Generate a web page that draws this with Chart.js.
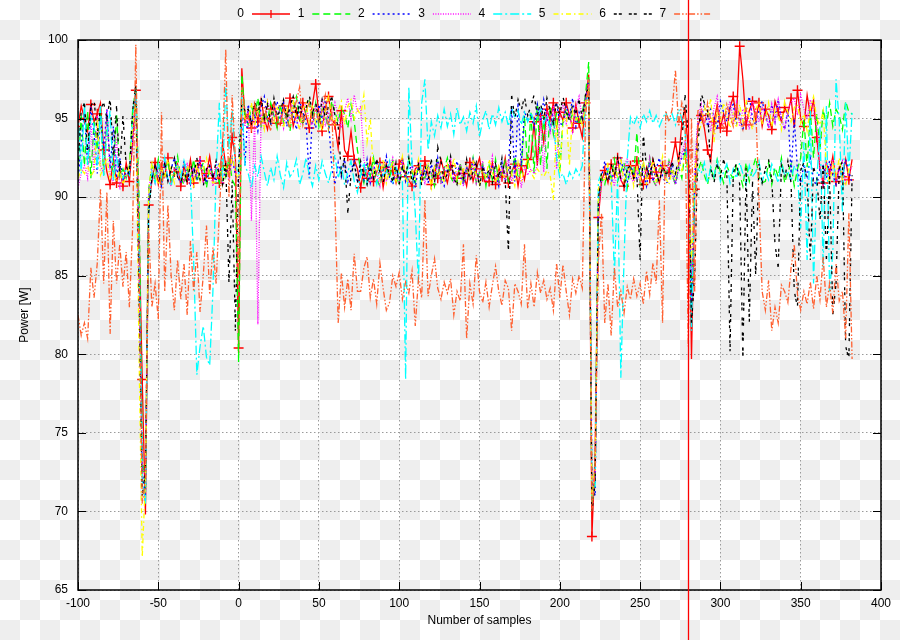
<!DOCTYPE html>
<html><head><meta charset="utf-8">
<script src="https://cdn.jsdelivr.net/npm/chart.js@4/dist/chart.umd.min.js"></script>
<style>
html,body{margin:0;padding:0;}
body{width:900px;height:640px;overflow:hidden;background-color:#fff;
background-image:conic-gradient(#eeeeee 0deg 90deg,#ffffff 90deg 180deg,#eeeeee 180deg 270deg,#ffffff 270deg 360deg);
background-size:40px 40px;}
#wrap{position:relative;width:900px;height:640px;}
</style></head><body><div id="wrap"><canvas id="c" width="900" height="640"></canvas></div>
<script>
const X_TITLE = 'Number of samples';
const Y_TITLE = 'Power [W]';
const MARKER_X = 280;
const seriesNames = ['0','1','2','3','4','5','6','7'];

const samples = [
-100,-98,-96,-94,-92,-90,-88,-86,-84,-82,-80,-78,-76,-74,-72,-70,-68,-66,
-64,-62,-60,-58,-56,
-54,-52,-50,-48,-46,-44,-42,-40,-38,-36,-34,-32,-30,-28,-26,-24,-22,-20,-18,-16,-14,-12,-10,-8,-6,-4,-2,
0,2,4,
6,8,10,12,14,16,18,20,22,24,26,28,30,32,34,36,38,40,42,44,46,48,50,52,54,56,58,60,62,64,66,68,70,72,74,
76,78,80,82,84,86,88,90,92,94,96,98,100,102,104,106,108,110,112,114,116,118,120,122,124,126,128,130,132,134,136,138,140,142,144,146,148,150,152,154,156,158,160,162,164,166,168,170,172,174,176,178,180,
182,184,186,188,190,192,194,196,198,200,202,204,206,208,210,212,214,216,
218,220,222,224,226,
228,230,232,234,236,238,240,242,244,246,248,250,252,254,256,258,260,262,264,266,268,270,272,274,276,278,
280,282,284,286,
288,290,292,294,296,298,300,302,304,306,308,310,312,314,316,318,320,322,324,326,328,330,332,334,336,338,340,342,344,346,348,350,352,354,356,358,360,362,364,366,368,370,372,374,376,378,380,382
];

const power0 = [
94.5,95.8,95.0,94.2,95.9,94.8,95.3,96.0,93.0,91.6,90.8,92.4,90.9,91.8,90.7,92.2,91.0,93.5,
96.8,88.0,78.4,69.8,89.5,
91.0,92.2,90.8,91.9,91.3,92.5,90.9,91.6,92.1,90.7,92.0,91.1,92.4,90.9,91.7,92.3,91.0,91.5,92.6,91.2,91.8,90.9,93.5,92.0,91.4,93.8,92.5,
80.4,98.2,95.0,
95.3,94.4,95.9,94.8,96.2,95.0,94.3,95.6,96.0,94.7,94.6,95.8,95.1,96.3,94.5,95.4,94.9,96.0,95.2,94.4,95.9,97.2,95.3,94.2,95.7,96.4,95.0,94.6,93.1,95.5,93.0,92.6,94.2,92.4,91.8,
90.6,91.8,91.2,92.4,91.0,91.6,92.2,90.6,91.9,91.4,91.7,90.9,92.1,92.5,91.3,91.1,90.7,91.8,92.0,91.2,92.3,91.4,90.8,91.9,91.2,92.4,91.6,90.9,92.0,91.5,91.2,92.0,91.5,90.7,92.2,91.0,91.8,92.5,91.3,90.9,91.0,92.2,90.8,91.9,91.3,92.5,90.9,91.6,92.1,90.7,92.0,91.1,92.4,
92.5,94.8,92.0,95.2,93.5,95.6,94.9,96.0,94.5,95.4,94.9,96.0,95.2,94.4,95.9,94.7,93.8,96.0,
97.8,68.4,73.8,88.7,91.0,
91.7,90.9,92.1,91.3,92.5,91.1,90.7,91.8,92.0,91.2,92.3,91.4,90.8,91.9,91.2,92.4,91.6,90.9,92.0,91.5,91.6,92.4,93.5,92.2,94.8,95.6,
93.0,79.7,90.5,94.5,
95.2,94.4,93.0,92.3,94.8,95.9,94.4,95.3,94.2,95.7,96.4,95.0,99.6,97.5,94.6,95.5,96.1,94.9,96.0,94.5,95.6,95.2,94.3,96.1,95.4,94.8,95.7,95.3,96.3,94.4,96.8,95.0,94.5,96.5,95.2,96.2,93.8,91.8,90.9,92.2,91.5,92.6,91.0,91.9,91.3,92.4,91.1,92.4
];

const power1 = [
91.5,95.2,92.0,95.5,91.2,94.8,93.0,95.6,91.4,95.0,92.2,91.6,95.3,91.3,91.8,91.2,92.0,95.5,
97.0,90.0,73.5,71.5,90.5,
92.0,91.1,92.4,90.9,91.7,92.3,91.0,91.5,92.6,91.2,90.8,91.8,91.2,92.4,91.0,91.6,92.2,90.6,91.9,91.4,91.7,90.9,92.1,91.3,92.5,91.1,90.7,
79.5,97.8,95.2,
94.6,95.8,95.1,96.3,94.5,95.4,94.9,96.0,95.2,94.4,95.9,94.7,95.3,94.2,95.7,96.4,95.0,94.6,95.5,96.1,94.9,96.0,94.5,95.6,95.2,94.3,96.1,95.4,94.8,95.7,95.3,94.4,95.9,94.8,93.0,
91.7,90.9,92.1,91.3,92.5,91.1,90.7,91.8,92.0,91.2,92.3,91.4,90.8,91.9,91.2,92.4,91.6,90.9,92.0,91.5,91.2,92.0,91.5,90.7,92.2,91.0,91.8,92.5,91.3,90.9,91.0,92.2,90.8,91.9,91.3,92.5,90.9,91.6,92.1,90.7,92.0,91.1,92.4,90.9,91.7,92.3,91.0,91.5,92.6,91.2,91.6,95.2,91.8,
95.5,91.5,96.0,92.0,95.2,91.8,95.8,94.0,95.4,91.6,95.0,95.6,94.8,95.3,95.1,94.6,95.4,96.5,
98.6,70.5,72.0,89.5,91.2,
90.8,91.8,91.2,92.4,91.0,91.6,92.2,90.6,91.9,91.4,94.1,90.9,92.1,91.3,92.5,91.1,90.7,91.8,92.0,91.2,92.3,91.4,90.8,91.9,91.2,93.0,
91.5,84.0,90.8,91.6,
92.3,91.4,90.8,91.9,91.2,92.4,91.6,90.9,92.0,91.5,91.2,92.0,91.5,90.7,92.2,91.0,91.8,92.5,91.3,90.9,91.0,92.2,90.8,91.9,91.3,92.5,90.9,91.6,92.1,90.7,91.8,92.5,95.0,91.9,95.5,92.5,95.3,93.0,95.6,94.5,96.0,94.5,95.6,95.2,94.3,96.1,95.4,95.3
];

const power2 = [
91.0,93.5,95.4,92.0,95.8,94.0,91.5,95.2,93.0,95.6,91.8,94.5,91.2,92.5,91.0,91.6,91.4,94.0,
96.5,86.0,72.5,71.0,90.0,
91.2,92.0,91.5,90.7,92.2,91.0,91.8,92.5,91.3,90.9,92.3,91.4,90.8,91.9,91.2,92.4,91.6,90.9,92.0,91.5,91.0,92.2,90.8,91.9,91.3,92.5,91.4,
91.0,95.5,92.0,
95.9,94.7,95.3,94.2,95.7,96.4,95.0,94.6,95.5,96.1,94.9,96.0,94.5,95.6,95.2,94.3,96.1,95.4,94.8,91.2,95.3,94.4,95.9,94.8,96.2,95.0,91.9,90.8,92.2,91.3,92.4,91.0,91.7,92.3,90.9,
92.0,91.1,92.4,90.9,91.7,92.3,91.0,91.5,92.6,91.2,90.8,91.8,91.2,92.4,91.0,91.6,92.2,90.6,91.9,91.4,91.7,90.9,92.1,91.3,92.5,91.1,90.7,91.8,92.0,91.2,92.3,91.4,90.8,91.9,91.2,92.4,91.6,90.9,92.0,91.5,91.2,92.0,91.5,90.7,92.2,91.0,91.8,95.8,91.0,96.0,92.0,95.5,94.8,
95.3,94.4,95.9,94.8,96.2,95.0,94.3,95.6,96.0,94.7,94.6,95.8,95.1,96.3,94.5,95.4,94.9,96.2,
97.5,72.0,71.0,90.0,91.3,
92.3,91.4,90.8,91.9,91.2,92.4,91.6,90.9,92.0,91.5,91.2,92.0,91.5,90.7,92.2,91.0,91.8,92.5,91.3,90.9,91.0,92.2,90.8,91.9,92.5,93.0,
92.0,83.0,91.0,94.8,
94.9,96.0,94.5,95.6,95.2,94.3,96.1,95.4,94.8,95.7,95.9,94.7,95.3,94.2,95.7,96.4,95.0,94.6,95.5,96.1,95.3,94.4,95.9,94.8,96.2,95.0,94.3,95.6,91.5,95.0,91.7,90.9,92.1,91.3,92.5,91.1,90.7,91.8,92.0,91.2,92.3,91.4,90.8,91.9,91.2,92.4,91.6,90.9
];

const power3 = [
90.6,91.5,92.0,91.2,94.8,91.6,95.2,92.0,91.5,95.6,91.3,91.0,93.8,90.5,91.4,91.2,91.8,93.5,
96.0,84.0,73.0,72.0,90.5,
91.7,90.9,92.1,91.3,92.5,91.1,90.7,91.8,92.0,91.2,91.0,92.2,90.8,91.9,91.3,92.5,90.9,91.6,92.1,90.7,92.3,91.4,90.8,91.9,91.2,92.4,91.6,
91.5,95.0,94.5,
95.6,88.5,95.3,81.9,95.2,94.3,96.1,95.4,94.8,95.7,95.3,94.4,95.9,94.8,96.2,95.0,94.3,95.6,96.0,94.7,94.6,95.8,95.1,96.3,94.5,95.4,94.9,96.0,95.2,94.4,95.5,96.3,95.0,96.5,95.4,
95.8,92.4,91.5,90.9,92.0,91.5,90.7,92.2,91.0,91.8,92.5,91.3,90.9,92.3,91.4,90.8,91.9,91.2,92.4,91.6,90.9,92.0,91.5,91.0,92.2,90.8,91.9,91.3,92.5,90.9,91.6,92.1,90.7,92.0,91.1,92.4,90.9,91.7,92.3,91.0,91.5,92.6,91.2,90.8,91.8,91.2,92.4,91.0,91.6,92.2,90.6,91.9,91.4,
91.8,91.5,92.0,95.2,91.6,95.5,94.0,95.8,91.8,95.3,95.9,94.7,95.3,94.2,95.7,96.4,95.0,96.4,
97.0,71.5,72.5,89.0,91.0,
91.2,92.0,91.5,90.7,92.2,91.0,91.8,92.5,91.3,90.9,91.7,90.9,92.1,91.3,92.5,91.1,90.7,91.8,92.0,91.2,92.3,91.4,90.8,91.9,92.8,93.5,
92.5,85.0,92.0,95.0,
95.9,94.7,95.3,94.2,95.7,96.4,95.0,94.6,95.5,96.1,94.9,96.0,94.5,95.6,95.2,94.3,96.1,95.4,94.8,95.7,95.3,94.4,95.9,94.8,96.2,95.0,94.3,95.6,96.0,96.3,95.2,96.5,95.6,95.0,96.2,95.4,94.6,91.8,90.8,92.2,91.3,92.4,91.0,91.7,92.3,90.9,91.5,92.0
];

const power4 = [
95.5,91.5,96.0,92.0,95.2,94.5,91.8,95.8,91.3,94.0,95.5,91.0,92.5,91.6,91.2,91.8,91.4,95.0,
97.0,87.0,72.0,70.5,89.0,
91.6,90.9,92.1,91.3,92.5,91.1,90.7,91.8,92.0,91.2,92.3,91.4,91.2,86.0,78.7,80.5,81.8,79.8,79.3,84.0,91.5,96.0,91.0,97.2,93.0,95.5,92.0,
91.5,96.5,92.0,
91.5,90.6,92.0,91.3,92.6,91.6,90.7,91.9,91.1,92.6,91.4,90.6,92.2,91.3,91.6,92.4,90.8,91.5,92.5,91.4,90.7,92.0,91.1,92.3,91.5,90.9,91.8,92.7,91.2,92.0,90.8,91.6,92.3,91.0,90.3,
91.4,92.2,90.9,91.9,91.5,90.8,92.1,91.4,91.6,92.3,91.0,91.9,91.5,91.0,78.4,97.0,92.0,89.0,84.5,96.0,97.5,93.0,94.8,93.9,95.2,94.4,95.6,94.5,95.3,94.0,95.7,94.6,95.1,94.2,95.4,94.7,95.8,93.8,94.9,95.5,94.3,95.3,94.6,95.7,94.8,95.4,94.5,95.8,95.0,95.5,94.6,95.4,94.8,
95.4,94.8,95.1,95.6,94.7,95.2,94.4,95.0,92.5,91.2,91.5,90.8,91.6,91.2,91.8,91.4,92.0,96.0,
96.5,70.8,71.5,91.0,91.5,
91.4,91.8,91.2,85.0,91.3,78.5,86.0,92.4,95.1,94.6,95.1,94.4,95.3,94.8,95.5,94.7,95.2,94.5,95.0,95.4,94.8,95.3,94.6,95.6,95.0,94.2,
91.0,81.5,91.2,91.8,
91.5,92.2,90.9,91.9,91.3,92.3,91.0,91.6,92.1,90.9,91.8,91.2,92.2,91.5,90.8,92.0,91.3,91.6,92.3,91.0,91.7,91.1,92.1,91.5,90.9,92.2,91.4,91.7,91.0,92.0,91.5,88.0,93.5,86.0,95.5,84.5,91.0,94.5,85.5,95.8,84.0,86.5,97.5,94.8,89.0,96.0,91.5,95.4
];

const power5 = [
91.2,91.8,91.5,92.0,91.3,91.7,95.0,91.4,91.9,92.5,91.2,91.6,91.0,91.8,90.8,91.4,91.9,94.5,
96.0,80.0,67.1,72.0,90.2,
92.3,91.4,90.8,91.9,91.2,92.4,91.6,90.9,92.0,91.5,91.2,92.0,91.5,90.7,92.2,91.0,91.8,92.5,91.3,90.9,91.0,92.2,90.8,91.9,91.3,92.6,91.5,
91.2,95.8,95.0,
94.9,96.0,94.5,95.6,95.2,94.3,96.1,95.4,94.8,95.7,95.3,94.4,95.9,94.8,96.2,95.0,94.3,95.6,96.0,94.7,95.9,94.7,95.3,94.2,95.7,96.4,95.0,94.6,95.5,96.1,94.6,95.8,96.2,95.0,95.6,
95.2,96.5,93.5,95.0,91.5,92.0,91.1,92.4,90.9,91.7,92.3,91.0,91.5,92.6,91.2,90.8,91.8,91.2,92.4,91.0,91.6,92.2,90.6,91.9,91.4,91.7,90.9,92.1,91.3,92.5,91.1,90.7,91.8,92.0,91.2,92.3,91.4,90.8,91.9,91.2,92.4,91.6,90.9,92.0,91.5,91.2,92.0,91.5,90.7,92.2,91.0,91.8,92.5,
91.6,91.2,91.8,91.5,91.3,91.7,91.4,89.8,95.0,91.5,94.8,95.3,92.0,95.5,94.9,95.2,94.6,96.0,
96.8,71.0,72.8,90.5,91.4,
91.0,92.2,90.8,91.9,91.3,92.5,90.9,91.6,92.1,90.7,92.0,91.1,92.4,90.9,91.7,92.3,91.0,91.5,92.6,91.2,90.8,91.8,91.2,92.4,91.7,92.6,
91.8,86.0,91.5,94.0,
94.6,95.8,95.1,96.3,93.5,95.4,94.9,96.0,95.2,94.4,95.3,94.4,95.9,94.8,96.2,95.0,94.3,95.6,96.0,94.7,94.9,96.0,94.5,95.6,95.2,94.3,96.1,95.4,94.8,95.7,95.9,94.7,95.3,94.2,95.7,96.4,95.0,94.6,95.5,91.8,90.9,92.1,91.3,92.5,91.1,90.7,91.8,92.0
];

const power6 = [
92.0,95.5,96.0,93.0,95.8,96.2,94.0,95.6,96.0,95.0,96.3,92.5,95.8,91.5,95.2,92.0,91.4,95.5,
97.2,84.0,71.0,72.5,89.0,
91.2,92.0,91.5,90.7,92.2,91.0,91.8,92.5,91.3,90.9,91.7,90.9,92.1,91.3,92.5,91.1,90.7,91.8,92.0,91.2,92.3,91.4,90.8,92.2,84.5,91.0,81.5,
92.0,96.0,95.5,
95.6,94.7,96.1,95.3,96.4,95.0,95.9,94.8,96.3,95.2,95.5,96.2,94.9,95.8,96.4,95.1,96.0,94.8,95.7,96.5,95.3,96.0,94.9,96.2,95.0,95.8,96.4,95.2,94.5,91.5,92.5,89.0,91.4,92.2,90.9,
92.3,91.4,90.8,91.9,91.2,92.4,91.6,90.9,92.0,91.5,91.0,92.2,90.8,91.9,91.3,92.5,90.9,91.6,92.1,90.7,92.0,91.1,92.4,90.9,93.2,92.3,91.0,91.5,92.6,91.2,90.8,91.8,91.2,92.4,91.0,91.6,92.2,90.6,91.9,91.4,91.7,90.9,92.1,91.3,92.5,91.1,86.5,96.5,95.0,96.2,95.5,96.4,95.2,
95.8,96.5,95.2,96.0,94.9,96.3,95.5,94.7,96.1,95.2,96.4,95.4,94.9,95.9,95.3,96.2,95.0,96.5,
97.0,70.0,71.8,89.8,91.6,
91.7,90.9,92.1,91.3,92.5,91.1,90.7,91.8,92.0,91.2,91.4,86.0,94.0,91.9,91.2,92.4,91.6,90.9,92.0,91.5,91.6,92.2,91.5,92.5,93.5,96.5,
94.0,82.0,85.0,93.0,
96.6,96.0,95.5,91.8,90.9,92.1,91.3,92.4,91.6,80.2,91.5,92.2,90.8,79.7,91.9,82.0,91.0,85.0,92.1,90.9,91.8,92.4,91.1,87.0,85.5,92.0,91.2,92.3,90.9,84.0,83.0,91.7,92.2,91.0,86.0,91.9,91.3,88.5,92.2,86.0,91.4,82.5,84.5,91.8,92.3,80.5,79.7,91.4
];

const power7 = [
82.5,81.2,82.0,81.0,85.5,83.6,85.8,90.5,84.5,90.3,81.3,88.5,84.5,87.0,84.3,86.5,83.0,88.0,
99.7,86.0,70.5,72.0,88.0,
83.0,84.5,82.2,95.4,84.0,89.5,85.0,82.8,86.0,83.5,85.8,82.5,87.2,84.0,86.5,82.7,85.0,88.2,83.8,86.8,84.5,89.0,93.0,99.4,90.0,96.5,92.5,
85.0,97.0,95.5,
95.0,94.3,96.0,95.2,94.6,95.8,94.9,94.2,95.9,95.1,94.5,95.7,94.9,94.4,95.6,96.1,97.0,94.6,95.5,96.0,94.7,95.6,94.8,95.5,96.5,94.4,95.6,89.8,82.0,85.2,83.0,84.8,82.8,86.4,84.0,
84.0,85.5,86.2,83.6,84.8,83.2,85.8,84.2,82.8,83.3,85.0,84.3,85.2,83.5,84.6,83.9,85.3,81.8,84.8,83.6,89.8,83.7,85.0,86.1,84.2,83.5,84.6,83.9,84.8,82.5,84.0,83.4,87.0,81.0,84.5,83.2,86.3,84.0,83.3,84.6,83.0,84.4,85.6,84.0,83.1,84.7,84.2,81.5,84.5,84.0,83.2,87.0,82.9,
84.5,83.0,85.2,83.9,84.7,83.5,84.2,82.8,85.8,83.6,85.7,84.0,82.5,84.8,83.9,85.0,84.2,95.0,
97.5,70.0,72.5,86.0,89.0,
82.0,84.5,81.2,85.5,83.0,84.0,82.6,84.3,83.5,84.8,83.7,84.5,83.2,85.3,83.8,85.8,84.5,89.8,82.0,95.5,94.8,95.6,98.1,94.5,96.0,95.2,
80.5,95.0,84.0,95.5,
95.6,94.5,96.0,94.9,94.2,95.7,95.0,94.4,95.9,95.2,94.5,96.0,95.0,94.3,95.6,94.8,94.5,95.7,90.0,84.0,82.8,84.7,81.5,83.0,82.0,84.4,84.0,83.3,85.5,87.0,83.8,82.8,84.0,83.2,84.6,82.9,85.0,83.5,86.2,83.0,84.5,82.6,85.8,83.4,84.0,81.0,89.0,79.7
];

const FONT = '"Liberation Sans", Arial, Helvetica, sans-serif';
const colors = ['#ff0000','#00ff00','#0000ff','#ff00ff','#00ffff','#ffff00','#000000','#ff6030'];
const dashes = [[],[7,4],[2,3],[1,1.5],[9,3,2,3],[5,3,1.5,3],[3,2,3,7],[6,2,1.5,2,1.5,2]];
const allSeries = [power0,power1,power2,power3,power4,power5,power6,power7];

const datasets = allSeries.map((vals,i)=>({
  label: seriesNames[i],
  data: vals.map((v,k)=>({x: samples[k], y: v})),
  order: allSeries.length - 1 - i,
  borderColor: colors[i],
  backgroundColor: colors[i],
  borderWidth: 1.3,
  borderDash: dashes[i],
  pointStyle: 'cross',
  pointRadius: i===0 ? (c)=> (c.dataIndex % 2 === 0 ? 5 : 0) : 0,
  pointBorderWidth: 1.4,
  pointBorderColor: colors[i],
  tension: 0,
  fill: false
}));

const framePlugin = {
  id: 'frame',
  afterDraw(chart){
    const {ctx, chartArea:a, scales:{x, y}} = chart;
    ctx.save();
    ctx.setLineDash([]);
    ctx.strokeStyle = '#000';
    ctx.lineWidth = 1;
    ctx.beginPath();
    x.ticks.forEach(t=>{
      const px = Math.round(x.getPixelForValue(t.value)) + 0.5;
      ctx.moveTo(px, a.bottom); ctx.lineTo(px, a.bottom - 8);
      ctx.moveTo(px, a.top); ctx.lineTo(px, a.top + 8);
    });
    y.ticks.forEach(t=>{
      const py = Math.round(y.getPixelForValue(t.value)) + 0.5;
      ctx.moveTo(a.left, py); ctx.lineTo(a.left + 8, py);
      ctx.moveTo(a.right, py); ctx.lineTo(a.right - 8, py);
    });
    ctx.stroke();
    ctx.lineWidth = 1.5;
    ctx.strokeRect(a.left, a.top, a.right - a.left, a.bottom - a.top);

    ctx.fillStyle = '#000';
    ctx.font = '12px ' + FONT;
    ctx.textAlign = 'center';
    ctx.textBaseline = 'middle';
    ctx.fillText(X_TITLE, (a.left + a.right) / 2, 621);
    ctx.save();
    ctx.translate(25, (a.top + a.bottom) / 2);
    ctx.rotate(-Math.PI / 2);
    ctx.fillText(Y_TITLE, 0, 0);
    ctx.restore();

    chart.data.datasets.forEach((ds, i)=>{
      const tx = 244 + i * 60.3, ty = 14;
      ctx.setLineDash([]);
      ctx.fillStyle = '#000';
      ctx.textAlign = 'right';
      ctx.fillText(ds.label, tx, ty);
      ctx.strokeStyle = ds.borderColor;
      ctx.lineWidth = ds.borderWidth;
      ctx.setLineDash(ds.borderDash || []);
      ctx.beginPath();
      ctx.moveTo(tx + 8, ty); ctx.lineTo(tx + 46, ty);
      ctx.stroke();
      if (i === 0) {
        ctx.setLineDash([]);
        ctx.beginPath();
        ctx.moveTo(tx + 27, ty - 4); ctx.lineTo(tx + 27, ty + 4);
        ctx.stroke();
      }
    });

    const mx = Math.round(x.getPixelForValue(MARKER_X)) + 0.5;
    ctx.setLineDash([]);
    ctx.strokeStyle = '#ff0000';
    ctx.lineWidth = 1.3;
    ctx.beginPath();
    ctx.moveTo(mx, 0); ctx.lineTo(mx, chart.height);
    ctx.stroke();
    ctx.restore();
  }
};

new Chart(document.getElementById('c'), {
  type: 'line',
  data: { datasets },
  options: {
    responsive: false,
    animation: false,
    events: [],
    layout: { padding: { left: 0, right: 19, top: 40, bottom: 0 } },
    plugins: { legend: { display: false }, tooltip: { enabled: false } },
    scales: {
      x: {
        type: 'linear', min: -100, max: 400,
        ticks: { stepSize: 50, color: '#000', font: { family: FONT, size: 12 }, padding: 6, maxRotation: 0, autoSkip: false },
        grid: { color: '#9a9a9a', lineWidth: 1, drawTicks: false },
        border: { display: false, dash: [1.5, 2.5] },
        afterFit: s => { s.height = 50; }
      },
      y: {
        min: 65, max: 100,
        ticks: { stepSize: 5, color: '#000', font: { family: FONT, size: 12 }, padding: 10 },
        grid: { color: '#9a9a9a', lineWidth: 1, drawTicks: false },
        border: { display: false, dash: [1.5, 2.5] },
        afterFit: s => { s.width = 78; }
      }
    }
  },
  plugins: [framePlugin]
});
</script></body></html>
